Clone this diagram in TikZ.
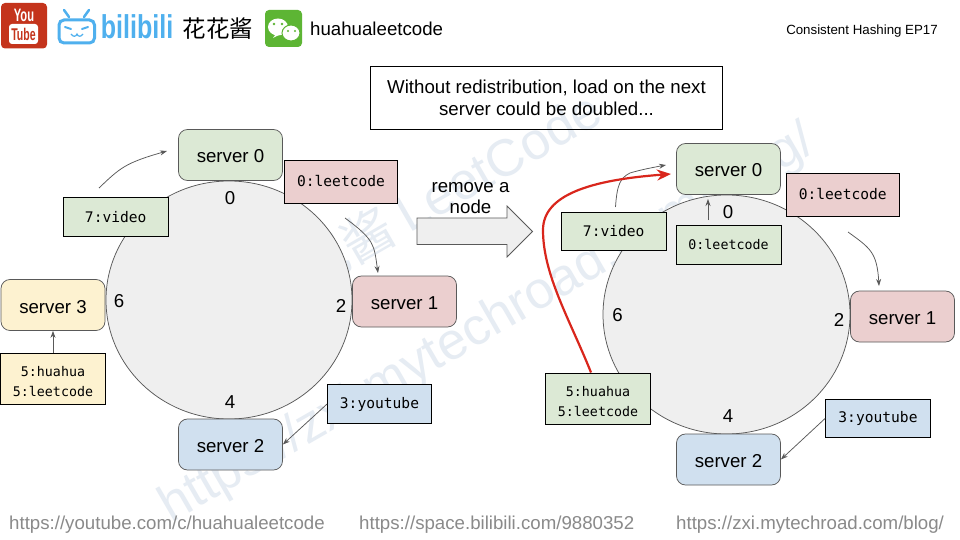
\documentclass[tikz,border=0pt]{standalone}
\usepackage{fontspec}
\setmainfont{Liberation Sans}
\newfontfamily\cjkfont{Noto Sans CJK SC}
\newfontfamily\codefont{DejaVu Sans Mono}
\usetikzlibrary{arrows.meta,shapes.geometric}
\definecolor{cgreen}{HTML}{DCE9D5}
\definecolor{cred}{HTML}{EBCFCF}
\definecolor{cblue}{HTML}{D0E0EF}
\definecolor{cyellow}{HTML}{FDF2D0}
\definecolor{cring}{HTML}{EFEFEF}
\definecolor{cedge}{HTML}{595959}
\definecolor{curl}{HTML}{8A8A8A}
\definecolor{cwater}{HTML}{E6ECF3}
\definecolor{cbili}{HTML}{4FB0EE}
\definecolor{cyt}{HTML}{C4341C}
\definecolor{cwx}{HTML}{5DB534}
\definecolor{chot}{HTML}{D9261C}
\tikzset{
  x=1pt,y=-1pt,
  server/.style={draw=cedge,line width=.75pt,rounded corners=9pt,minimum width=104pt,minimum height=51pt,inner sep=0pt,text height=16pt,text depth=0pt,font=\fontsize{18.67}{18}\selectfont},
  keybox/.style={draw=black,line width=.9pt,inner sep=0pt,font=\codefont\fontsize{14.6}{20}\selectfont,align=center},
  smallkeys/.style={font=\codefont\fontsize{13.3}{20}\selectfont},
  ring/.style={ellipse,draw=cedge,line width=.75pt,fill=cring,inner sep=0pt,minimum width=246pt,minimum height=238pt},
  ringnum/.style={font=\fontsize{18.67}{18}\selectfont,inner sep=0pt},
  flow/.style={draw=cedge,line width=.75pt,-{Stealth[length=7pt,width=5pt]}},
  hot/.style={draw=chot,line width=2.2pt,-{Stealth[length=14pt,width=11pt]}},
  urltext/.style={text=curl,font=\fontsize{18.67}{18}\selectfont,inner sep=0pt},
  water/.style={text=cwater,rotate=30,inner sep=0pt,font=\fontsize{52}{52}\selectfont},
}
\newcommand{\boxat}[7]{\node[keybox,fill=#2,minimum width=#5 pt-#3 pt,minimum height=#6 pt-#4 pt] (#1) at ({(#3+#5)/2},{(#4+#6)/2}) {#7};}
\newcommand{\twokeys}[7]{\node[keybox,smallkeys,fill=#2,minimum width=#5 pt-#3 pt,minimum height=#6 pt-#4 pt] (#1) at ({(#3+#5)/2},{(#4+#6)/2}) {#7};}
\begin{document}
\begin{tikzpicture}
\useasboundingbox (0,0) rectangle (960,540);
\fill[white] (0,0) rectangle (960,540);

% watermark
\node[water] (wm1) at (425,202) {\cjkfont 花花酱\ \rmfamily LeetCode};
\node[water] (wm2) at (488,325) {https://zxi.mytechroad.com/blog/};

% logos
\fill[rounded corners=4pt,fill=cyt] (1,3) rectangle (47,48.5);
\node[inner sep=0pt,text=white,font=\bfseries\fontsize{18}{18}\selectfont,xscale=.62] (ytyou) at (24,15) {You};
\fill[white,rounded corners=3pt] (9,24) rectangle (38,44);
\node[inner sep=0pt,text=cyt,font=\bfseries\fontsize{17}{17}\selectfont,xscale=.62] (yttube) at (23.5,34.5) {Tube};
\draw[cbili,line width=3pt,rounded corners=5pt,fill=white] (59,20) rectangle (94.5,43);
\draw[cbili,line width=2.5pt,line cap=round] (69,17) -- (64,10) (84,17) -- (89,10);
\draw[cbili,line width=2pt,line cap=round] (65,27) -- (71,29) (88,27) -- (82,29);
\draw[cbili,line width=1.2pt] (71,34) .. controls (73,37) and (76,37) .. (77,34) .. controls (78,37) and (81,37) .. (83,34);
\node[inner sep=0pt,text=cbili,font=\bfseries\fontsize{33}{33}\selectfont,xscale=.76] (bililogo) at (137,27) {bilibili};
\node[inner sep=0pt,font=\cjkfont\fontsize{23.5}{23}\selectfont] (author) at (218,29) {花花酱};
\fill[cwx,rounded corners=4pt] (265,10) rectangle (302,47);
\fill[white] (278,27) ellipse (10pt and 8.5pt);
\fill[white] (278,31) -- (273,38) -- (283,33) -- cycle;
\draw[cwx,fill=white,line width=1pt] (291,33) ellipse (9pt and 8pt);
\fill[cwx] (274,24) circle (1.4pt) (282,24) circle (1.4pt) (288,31) circle (1.2pt) (295,31) circle (1.2pt);
\node[inner sep=0pt,anchor=west,font=\fontsize{18.67}{18}\selectfont] (wechat) at (310,29) {huahualeetcode};
\node[inner sep=0pt,anchor=east,font=\fontsize{13.3}{13}\selectfont] (title) at (938,31.5) {Consistent Hashing EP17};

% note
\node[draw=black,line width=.9pt,minimum width=352pt,minimum height=63pt,inner sep=0pt,align=center,font=\fontsize{18.67}{22}\selectfont] (note) at (546.5,98) {Without redistribution, load on the next\\server could be doubled...};

% left ring
\node[ring] (ringA) at (229,300) {};
\node[server,fill=cgreen] (a0) at (230.5,155) {server 0};
\node[server,fill=cred] (a1) at (404.5,301.5) {server 1};
\node[server,fill=cblue] (a2) at (230.5,444.5) {server 2};
\node[server,fill=cyellow] (a3) at (53,305) {server 3};
\node[ringnum] (n0) at (230,198.5) {0};
\node[ringnum] (n2) at (341,306) {2};
\node[ringnum] (n4) at (230,402.5) {4};
\node[ringnum] (n6) at (119,301.5) {6};
\boxat{ka0}{cred}{284.5}{160.5}{397.5}{203}{\raisebox{1.5pt}{0:leetcode}}
\boxat{ka7}{cgreen}{63.5}{197.5}{168}{236}{7:video}
\twokeys{ka5}{cyellow}{0.5}{353.5}{105.5}{404.5}{\rule{0pt}{16pt}5:huahua\\5:leetcode}
\boxat{ka3}{cblue}{327.5}{384.5}{431.5}{423.5}{\raisebox{-1pt}{3:youtube}}
\coordinate (fa7) at (99,188);
\coordinate (ta7) at (167,151);
\draw[flow] (fa7) .. controls (120,168) and (125,163) .. (ta7);
\coordinate (fa0) at (345,218);
\coordinate (ta0) at (378,273);
\draw[flow] (fa0) .. controls (375,240) and (374,245) .. (ta0);
\draw[flow] (ka5.north) -- (a3.south);
\draw[flow] (ka3.west) -- (a2.east);

% block arrow
\draw[draw=cedge,line width=.75pt,fill=cring] (417,218) -- (507,218) -- (507,206) -- (532.5,231.5) -- (507,257) -- (507,244.5) -- (417,244.5) -- cycle;
\node[align=center,inner sep=0pt,font=\fontsize{18.67}{21}\selectfont] (removelbl) at (470.5,198.5) {remove a\\node};

% right ring
\node[ring,minimum width=247pt,minimum height=239pt] (ringB) at (726.5,314.5) {};
\node[server,fill=cgreen] (b0) at (728.5,169) {server 0};
\node[server,fill=cred] (b1) at (902.5,316.5) {server 1};
\node[server,fill=cblue] (b2) at (728.5,459.5) {server 2};
\node[ringnum] (m0) at (728,212.5) {0};
\node[ringnum] (m2) at (839,320) {2};
\node[ringnum] (m4) at (728,416.5) {4};
\node[ringnum] (m6) at (617.5,315.5) {6};
\boxat{kb0}{cred}{786}{173.5}{899.5}{216.5}{\raisebox{1.5pt}{0:leetcode}}
\boxat{kb7}{cgreen}{561.5}{212}{666}{250}{7:video}
\twokeys{kb00}{cgreen}{676}{225}{781}{264}{0:leetcode}
\twokeys{kb5}{cgreen}{545.5}{373.5}{650.5}{424.5}{\rule{0pt}{16pt}5:huahua\\5:leetcode}
\boxat{kb3}{cblue}{825.5}{399.5}{930.5}{437.5}{\raisebox{-1pt}{3:youtube}}
\coordinate (fb7) at (615.5,207);
\coordinate (tb7) at (666,165);
\draw[flow] (fb7) .. controls (617,185) and (620,178) .. (630,173) .. controls (640,170) and (650,168) .. (tb7);
\coordinate (fb0) at (848,232);
\coordinate (tb0) at (879,286);
\draw[flow] (fb0) .. controls (870,248) and (877,252) .. (tb0);
\coordinate (fb00) at (708,220);
\coordinate (tb00) at (708,199);
\draw[flow] (fb00) -- (tb00);
\draw[flow] (kb3.west) -- (b2.east);
\coordinate (fred) at (591,372.5);
\coordinate (tred) at (671,174);
\draw[hot] (fred) .. controls (570,320) and (543,275) .. (543,230) .. controls (543,195) and (590,180) .. (tred);

% urls
\node[urltext,anchor=west] (url1) at (9,525) {https://youtube.com/c/huahualeetcode};
\node[urltext,anchor=west] (url2) at (359,525) {https://space.bilibili.com/9880352};
\node[urltext,anchor=west] (url3) at (676,525) {https://zxi.mytechroad.com/blog/};
\end{tikzpicture}
\end{document}
